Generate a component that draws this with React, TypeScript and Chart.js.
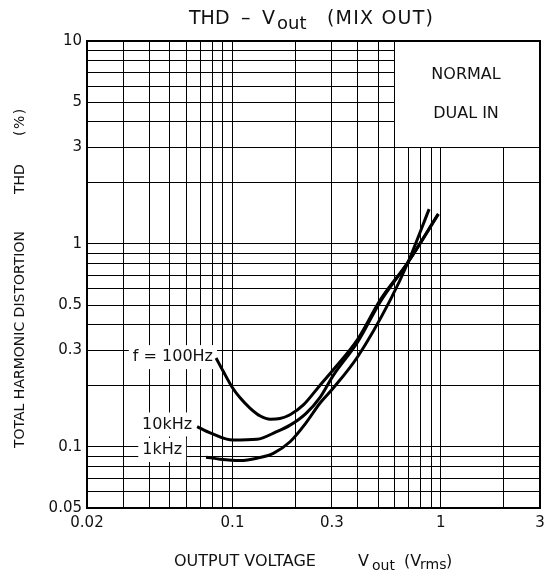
import React, { useEffect, useRef } from "react";
import { Chart, registerables } from "chart.js";

Chart.register(...registerables);

// ---- axis grid & labels ----
const xGridValues = [0.02, 0.03, 0.04, 0.05, 0.06, 0.07, 0.08, 0.09, 0.1, 0.2, 0.3, 0.4, 0.5, 0.6, 0.7, 0.8, 0.9, 1, 2, 3];
const xTickLabels = [0.02, 0.1, 0.3, 1, 3];
const yGridValues = [0.05, 0.06, 0.07, 0.08, 0.09, 0.1, 0.2, 0.3, 0.4, 0.5, 0.6, 0.7, 0.8, 0.9, 1, 2, 3, 4, 5, 6, 7, 8, 9, 10];
const yTickLabels = [0.05, 0.1, 0.3, 0.5, 1, 3, 5, 10];

// ---- series (Vout in Vrms, THD in %) ----
const vout100Hz = [0.0834, 0.0904, 0.0993, 0.109, 0.1216, 0.136, 0.152, 0.169, 0.189, 0.219, 0.264, 0.305, 0.4, 0.513, 0.698, 0.974];
const thd100Hz = [0.274, 0.235, 0.198, 0.174, 0.155, 0.142, 0.137, 0.138, 0.144, 0.161, 0.202, 0.24, 0.34, 0.53, 0.815, 1.406];

const vout10kHz = [0.0676, 0.0786, 0.1005, 0.131, 0.162, 0.189, 0.225, 0.264, 0.305, 0.4, 0.513, 0.698, 0.974];
const thd10kHz = [0.126, 0.117, 0.108, 0.109, 0.1185, 0.128, 0.146, 0.176, 0.225, 0.33, 0.52, 0.815, 1.4];

const vout1kHz = [0.0746, 0.0871, 0.109, 0.131, 0.157, 0.189, 0.225, 0.264, 0.305, 0.4, 0.573, 0.698, 0.88];
const thd1kHz = [0.089, 0.087, 0.0857, 0.088, 0.093, 0.106, 0.131, 0.165, 0.195, 0.279, 0.53, 0.815, 1.485];

// curve labels: text, right-edge x value, centre y value
const curveLabels = [
  { text: "f = 100Hz", x: 0.0806, y: 0.277 },
  { text: "10kHz", x: 0.064, y: 0.129 },
  { text: "1kHz", x: 0.0573, y: 0.0966 },
];

// legend box (x range, y range) and its texts
const boxXRange = [0.6, 3];
const boxYRange = [3, 10];
const boxTexts = [
  { text: "NORMAL", y: 6.8 },
  { text: "DUAL IN", y: 4.37 },
];

const FONT = "'DejaVu Sans', 'Noto Sans', sans-serif";

const toPts = (xs: number[], ys: number[]) => xs.map((v, i) => ({ x: v, y: ys[i] }));

type Seg = { t: string; x: number; size: number; drop?: number; spacing?: number };

function drawSegs(ctx: CanvasRenderingContext2D, segs: Seg[], y: number) {
  for (const s of segs) {
    ctx.font = `${s.size}px ${FONT}`;
    (ctx as any).letterSpacing = `${s.spacing || 0}px`;
    ctx.fillText(s.t, s.x, y + (s.drop || 0));
  }
  (ctx as any).letterSpacing = "0px";
}

const decorPlugin = {
  id: "decor",
  beforeDatasetsDraw(chart: any) {
    const { ctx, chartArea, scales } = chart;
    const xs = scales.x;
    const ys = scales.y;
    ctx.save();
    // legend box
    const bx = Math.round(xs.getPixelForValue(boxXRange[0]));
    const by = Math.round(ys.getPixelForValue(boxYRange[0]));
    ctx.fillStyle = "#fff";
    ctx.fillRect(bx + 1, chartArea.top, chartArea.right - bx - 1, by - chartArea.top);
    ctx.strokeStyle = "#000";
    ctx.lineWidth = 1;
    ctx.beginPath();
    ctx.moveTo(bx + 0.5, chartArea.top);
    ctx.lineTo(bx + 0.5, by + 0.5);
    ctx.lineTo(chartArea.right, by + 0.5);
    ctx.stroke();
    ctx.fillStyle = "#111";
    ctx.font = `16px ${FONT}`;
    ctx.textAlign = "center";
    ctx.textBaseline = "middle";
    const cx = (bx + chartArea.right) / 2 - 1;
    for (const b of boxTexts) {
      ctx.fillText(b.text, cx, ys.getPixelForValue(b.y));
    }
    // curve labels with white background
    ctx.textAlign = "right";
    for (const l of curveLabels) {
      const rx = xs.getPixelForValue(l.x);
      const cy = ys.getPixelForValue(l.y);
      const w = ctx.measureText(l.text).width;
      ctx.fillStyle = "#fff";
      ctx.fillRect(rx - w - 4, cy - 12, w + 8, 24);
      ctx.fillStyle = "#111";
      ctx.fillText(l.text, rx, cy);
    }
    ctx.restore();
  },
  afterDatasetsDraw(chart: any) {
    const { ctx, chartArea } = chart;
    ctx.save();
    ctx.strokeStyle = "#000";
    ctx.lineWidth = 2;
    ctx.strokeRect(chartArea.left, chartArea.top, chartArea.right - chartArea.left, chartArea.bottom - chartArea.top);
    ctx.restore();
  },
  afterDraw(chart: any) {
    const { ctx } = chart;
    ctx.save();
    ctx.fillStyle = "#111";
    ctx.textAlign = "left";
    ctx.textBaseline = "alphabetic";
    // title
    drawSegs(
      ctx,
      [
        { t: "THD", x: 189, size: 19 },
        { t: "–", x: 241, size: 19 },
        { t: "V", x: 262, size: 19 },
        { t: "out", x: 277, size: 18, drop: 5 },
        { t: "(MIX OUT)", x: 327, size: 19, spacing: 1.2 },
      ],
      24
    );
    // x-axis title
    drawSegs(
      ctx,
      [
        { t: "OUTPUT VOLTAGE", x: 174, size: 16 },
        { t: "V", x: 358, size: 16 },
        { t: "out", x: 372, size: 14, drop: 4 },
        { t: "(V", x: 404, size: 16 },
        { t: "rms", x: 420, size: 14, drop: 3 },
        { t: ")", x: 446, size: 16 },
      ],
      566
    );
    // y-axis title
    ctx.translate(24, 0);
    ctx.rotate(-Math.PI / 2);
    drawSegs(
      ctx,
      [
        { t: "TOTAL HARMONIC DISTORTION", x: -448, size: 14 },
        { t: "THD", x: -194, size: 14 },
        { t: "(%)", x: -136, size: 14, spacing: 1.5 },
      ],
      0
    );
    ctx.restore();
  },
};

const near = (list: number[], v: number) => list.some((l) => Math.abs(l - v) / l < 1e-6);

export default function App() {
  const canvasRef = useRef<HTMLCanvasElement | null>(null);

  useEffect(() => {
    if (!canvasRef.current) return;
    const lineStyle = {
      borderColor: "#000",
      borderWidth: 3,
      pointRadius: 0,
      fill: false,
      cubicInterpolationMode: "monotone" as const,
    };
    const chart = new Chart(canvasRef.current, {
      type: "line",
      data: {
        datasets: [
          { label: "100Hz", data: toPts(vout100Hz, thd100Hz), ...lineStyle },
          { label: "10kHz", data: toPts(vout10kHz, thd10kHz), ...lineStyle },
          { label: "1kHz", data: toPts(vout1kHz, thd1kHz), ...lineStyle },
        ],
      },
      options: {
        animation: false,
        responsive: true,
        maintainAspectRatio: false,
        layout: { padding: { top: 41, right: 5, left: 0, bottom: 0 } },
        plugins: { legend: { display: false }, tooltip: { enabled: false }, title: { display: false } },
        scales: {
          x: {
            type: "logarithmic",
            min: 0.02,
            max: 3,
            afterBuildTicks: (scale: any) => {
              scale.ticks = xGridValues.map((v) => ({ value: v }));
            },
            afterFit: (scale: any) => {
              scale.height = 68;
              scale.paddingLeft = 0;
              scale.paddingRight = 0;
            },
            grid: { color: "#000", lineWidth: 1, drawTicks: false },
            border: { display: false },
            ticks: {
              autoSkip: false,
              maxRotation: 0,
              padding: 6,
              color: "#111",
              font: { family: FONT, size: 15 },
              callback: (v: any) => (near(xTickLabels, Number(v)) ? String(Number(v)) : ""),
            },
          },
          y: {
            type: "logarithmic",
            min: 0.05,
            max: 10,
            afterBuildTicks: (scale: any) => {
              scale.ticks = yGridValues.map((v) => ({ value: v }));
            },
            afterFit: (scale: any) => {
              scale.width = 87;
              scale.paddingTop = 0;
              scale.paddingBottom = 0;
            },
            grid: { color: "#000", lineWidth: 1, drawTicks: false },
            border: { display: false },
            ticks: {
              autoSkip: false,
              padding: 5,
              color: "#111",
              font: { family: FONT, size: 15 },
              callback: (v: any) => (near(yTickLabels, Number(v)) ? String(Number(v)) : ""),
            },
          },
        },
      },
      plugins: [decorPlugin],
    });
    return () => chart.destroy();
  }, []);

  return (
    <div style={{ position: "absolute", left: 0, top: 0, width: 545, height: 576, background: "#fff" }}>
      <canvas ref={canvasRef} />
    </div>
  );
}
